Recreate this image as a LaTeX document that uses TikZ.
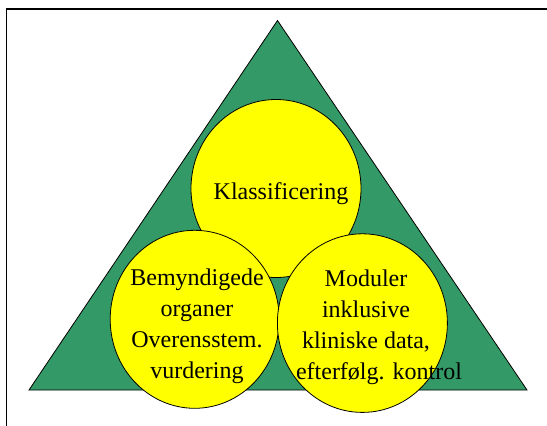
\documentclass[tikz,border=0pt]{standalone}
\usepackage{fontspec}
\setmainfont{Liberation Serif}
\definecolor{trigreen}{RGB}{51,153,102}
\definecolor{circyellow}{RGB}{255,255,0}
\begin{document}
\begin{tikzpicture}[x=1pt,y=-1pt,
  blob/.style={draw=black, fill=circyellow, line width=0.8pt},
  lbl/.style={align=center, font=\fontsize{24}{31}\selectfont, inner sep=0pt}]
\useasboundingbox (0,0) rectangle (547,426);
\fill[white] (0,0) rectangle (547,426);
% frame
\draw[line width=1.6pt] (6.5,430) -- (6.5,9) -- (550,9);
% triangle
\coordinate (apex) at (277.5,20.5);
\coordinate (bl) at (29,390);
\coordinate (br) at (527,390);
\draw[fill=trigreen, line width=0.8pt] (apex) -- (bl) -- (br) -- cycle;
% circles
\path[blob] (276,188.5) ellipse [x radius=85, y radius=89];
\path[blob] (194.7,319.3) ellipse [x radius=84.5, y radius=89];
\path[blob] (362.4,323.1) ellipse [x radius=85, y radius=89.3];
% texts
\node[lbl] (klas) at (281,193.5) {Klassificering};
\node[lbl] (bem) at (197,326) {Bemyndigede\\organer\\Overensstem.\\vurdering};
\node[lbl] (mod) at (366,327) {Moduler\\inklusive\\kliniske data,\\\hspace*{26pt}efterfølg. kontrol};
\end{tikzpicture}
\end{document}
